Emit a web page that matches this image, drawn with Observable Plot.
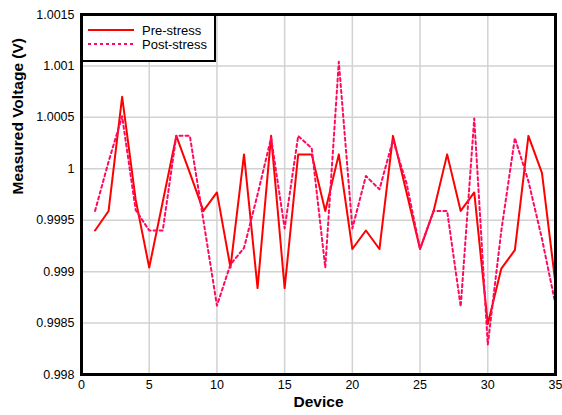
<!DOCTYPE html>
<html>
<head>
<meta charset="utf-8">
<script src="https://cdn.jsdelivr.net/npm/d3@7"></script>
<script src="https://cdn.jsdelivr.net/npm/@observablehq/plot@0.6"></script>
<style>
  html, body { margin: 0; padding: 0; background: #fff; }
  #wrap { position: relative; width: 562px; height: 415px; font-family: "Liberation Sans", Arial, sans-serif; }
  #legend { position: absolute; left: 81px; top: 14px; width: 131px; height: 44px; border: 2px solid #000; background: #fff; }
  #legend .row { position: absolute; left: 0; height: 16px; display: flex; align-items: center; font-size: 13px; color: #000; }
  #legend svg { margin-left: 5px; margin-right: 8px; }
</style>
</head>
<body>
<div id="wrap"></div>
<script>
const devices = [1,2,3,4,5,6,7,8,9,10,11,12,13,14,15,16,17,18,19,20,21,22,23,24,25,26,27,28,29,30,31,32,33,34,35];
const preStress = [0.9994,0.99959,1.0007,0.9997,0.99904,0.99968,1.00032,0.99996,0.99959,0.99977,
  0.99904,1.00014,0.99884,1.00032,0.99884,1.00014,1.00014,0.99959,1.00014,0.99922,
  0.9994,0.99922,1.00032,0.99977,0.99922,0.99959,1.00014,0.99959,0.99977,0.99849,
  0.99903,0.99921,1.00032,0.99996,0.99888];
const postStress = [0.99959,1.00007,1.00051,0.9996,0.9994,0.9994,1.00032,1.00032,0.9995,0.99867,
  0.99907,0.99923,0.99975,1.0003,0.99942,1.00032,1.0002,0.99904,1.00104,0.99942,
  0.99993,0.9998,1.00028,0.99986,0.99922,0.99959,0.99959,0.99866,1.00049,0.99829,
  0.9994,1.0003,0.99988,0.99932,0.99868];
const seriesNames = ["Pre-stress", "Post-stress"];
const xTicks = [0,5,10,15,20,25,30,35];
const yTicks = [0.998,0.9985,0.999,0.9995,1,1.0005,1.001,1.0015];
const xTitle = "Device";
const yTitle = "Measured Voltage (V)";

const pre = devices.map((d, i) => ({device: d, value: preStress[i]}));
const post = devices.map((d, i) => ({device: d, value: postStress[i]}));

const chart = Plot.plot({
  width: 562,
  height: 415,
  marginLeft: 81,
  marginRight: 7,
  marginTop: 14,
  marginBottom: 41,
  style: {fontFamily: "Liberation Sans, Arial, sans-serif", fontSize: "12.5px", color: "#000", background: "#fff"},
  x: {domain: [0, 35]},
  y: {domain: [0.998, 1.0015]},
  marks: [
    Plot.gridX(xTicks, {stroke: "#d2d2d2", strokeOpacity: 1, strokeWidth: 1.5}),
    Plot.gridY(yTicks, {stroke: "#d2d2d2", strokeOpacity: 1, strokeWidth: 1.5}),
    Plot.line(pre, {x: "device", y: "value", stroke: "#ff0000", strokeWidth: 2}),
    Plot.line(post, {x: "device", y: "value", stroke: "#ff0a60", strokeWidth: 2, strokeDasharray: "3,3"}),
    Plot.frame({stroke: "#000", strokeWidth: 3}),
    Plot.axisX({ticks: xTicks, tickSize: 0, tickPadding: 6, label: null, fill: "#000"}),
    Plot.axisY({ticks: yTicks, tickSize: 0, tickPadding: 7, label: null, fill: "#000", tickFormat: d => String(+d.toFixed(4))}),
    Plot.text([xTitle], {frameAnchor: "bottom", dy: 32, fontWeight: "bold", fontSize: 15.5, fill: "#000"}),
    Plot.text([yTitle], {frameAnchor: "left", dx: -63, rotate: -90, fontWeight: "bold", fontSize: 15.5, fill: "#000"})
  ]
});

const wrap = document.getElementById("wrap");
wrap.appendChild(chart);

const legend = document.createElement("div");
legend.id = "legend";
const styles = [{stroke: "#ff0000", dash: ""}, {stroke: "#ff0a60", dash: "3,3"}];
seriesNames.forEach((name, i) => {
  const row = document.createElement("div");
  row.className = "row";
  row.style.top = (i === 0 ? 6 : 20) + "px";
  row.innerHTML = `<svg width="46" height="4"><line x1="0" y1="2" x2="46" y2="2" stroke="${styles[i].stroke}" stroke-width="2" ${styles[i].dash ? `stroke-dasharray="${styles[i].dash}"` : ""}/></svg><span>${name}</span>`;
  legend.appendChild(row);
});
wrap.appendChild(legend);
</script>
</body>
</html>
